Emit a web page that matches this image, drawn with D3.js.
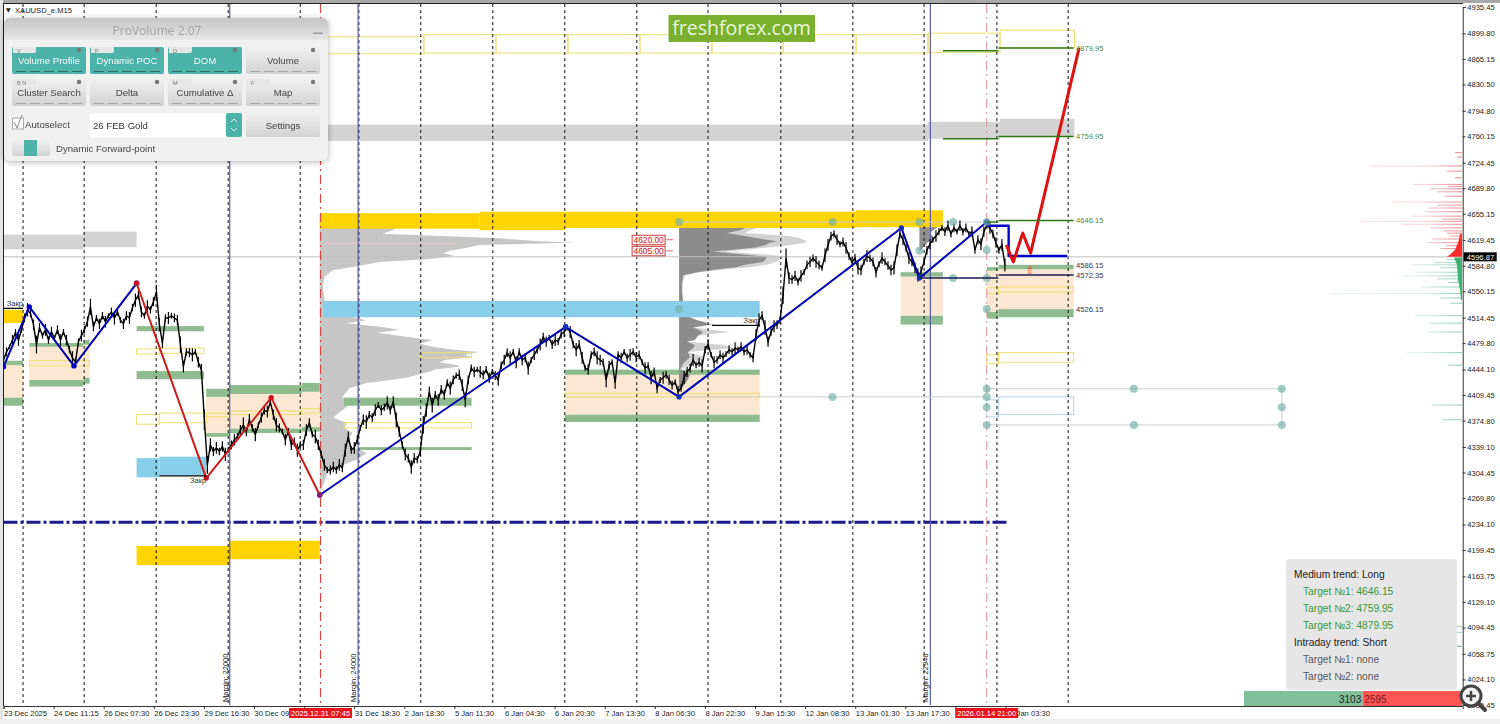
<!DOCTYPE html>
<html>
<head>
<meta charset="utf-8">
<script src="https://cdnjs.cloudflare.com/ajax/libs/d3/7.8.5/d3.min.js"></script>
<style>
	html, body { margin: 0; padding: 0; background: #fff; }
	svg { display: block; font-family: "Liberation Sans", Arial, sans-serif; }
	.axis text { font-size: 7.6px; fill: #222; }
	.axis path { stroke: #333; }
	.axis line { stroke: #333; }
	.panelBtn { font-size: 9.6px; text-anchor: middle; }
</style>
</head>
<body>
<svg id="chart" width="1500" height="724"></svg>
<script>
// price axis labels
var priceTicks = [4935.45, 4899.80, 4865.15, 4830.50, 4794.80, 4760.15, 4724.45, 4689.80, 4655.15, 4619.45, 4584.80, 4550.15, 4514.45, 4479.80, 4444.10, 4409.45, 4374.80, 4339.10, 4304.45, 4269.80, 4234.10, 4199.45, 4163.75, 4129.10, 4094.45, 4058.75, 4024.10, 3989.45];
// one time label every 64 M15 bars, the two blank ones sit under the red date tags
var barsPerLabel = 64;
var timeLabels = ["23 Dec 2025", "24 Dec 11:15", "26 Dec 07:30", "26 Dec 23:30", "29 Dec 16:30", "30 Dec 09:30", "", "31 Dec 18:30", "2 Jan 18:30", "5 Jan 11:30", "6 Jan 04:30", "6 Jan 20:30", "7 Jan 13:30", "8 Jan 06:30", "8 Jan 22:30", "9 Jan 15:30", "12 Jan 08:30", "13 Jan 01:30", "13 Jan 17:30", "", "15 Jan 03:30"];
var daySeparators = [25, 103, 195, 287, 379, 454, 533, 625, 717, 809, 900, 993, 1085, 1176, 1269, 1360];
var marginBars = [289, 453, 1184];
var marginLabels = ["Margin: 22000", "Margin: 24000", "Margin: 22946"];
var sessionBars = [405, 1256];
var sessionLabels = ["2025.12.31 07:45", "2026.01.14 21:00"];

// one value every few bars
var priceStep = 3.83;
var priceClose = [4457,4468,4475,4484,4494,4484,4498,4514,4525,4520,4505,4478,4501,4490,4498,4484,4495,4487,4498,4484,4495,4484,4471,4460,4454,4482,4490,4498,4509,4529,4502,4514,4506,4517,4509,4517,4522,4514,4522,4511,4506,4517,4514,4528,4538,4545,4522,4517,4530,4525,4536,4549,4505,4480,4514,4514,4517,4514,4511,4478,4448,4468,4467,4464,4468,4454,4444,4376,4315,4342,4333,4338,4333,4340,4329,4335,4342,4349,4353,4362,4369,4360,4376,4365,4356,4369,4379,4389,4387,4400,4383,4369,4365,4360,4349,4360,4342,4346,4335,4342,4342,4362,4372,4356,4353,4342,4329,4315,4308,4308,4312,4308,4315,4311,4335,4353,4335,4338,4349,4365,4376,4373,4383,4379,4389,4396,4389,4393,4399,4389,4400,4376,4360,4342,4329,4324,4312,4324,4322,4333,4369,4389,4414,4396,4410,4403,4417,4410,4426,4419,4430,4436,4437,4423,4403,4430,4446,4441,4444,4441,4437,4444,4433,4441,4436,4430,4450,4457,4467,4460,4468,4454,4468,4457,4460,4446,4457,4464,4471,4478,4488,4482,4487,4478,4484,4482,4492,4495,4501,4495,4478,4471,4478,4460,4446,4444,4464,4468,4460,4457,4454,4430,4450,4454,4426,4464,4460,4468,4460,4464,4468,4461,4464,4454,4446,4449,4433,4441,4419,4430,4433,4437,4430,4423,4427,4414,4419,4433,4441,4446,4457,4450,4454,4449,4471,4478,4464,4454,4457,4464,4460,4465,4471,4468,4473,4471,4475,4468,4471,4464,4460,4491,4511,4517,4501,4482,4495,4503,4505,4511,4545,4595,4568,4566,4571,4563,4571,4576,4586,4590,4595,4590,4586,4582,4599,4613,4625,4628,4620,4614,4617,4609,4598,4590,4595,4582,4579,4590,4598,4595,4590,4576,4587,4595,4590,4585,4579,4582,4606,4628,4620,4609,4595,4590,4582,4572,4576,4590,4606,4614,4620,4625,4631,4636,4631,4639,4628,4636,4631,4639,4631,4636,4628,4631,4606,4620,4614,4631,4640,4636,4628,4616,4606,4613,4586];
// half of the swing seen around each reading
var priceSwing = [4,6,3,7,5,8,4,6,9,5,7,12,6,4,8,5,7,3,6,8,4,7,5,9,6,4,8,5,7,11,6,4,7,5,8,3,6,9,5,4,7,6,8,5,9,6,7,4,8,5,6,10,9,7,5,8,4,6,7,11,8,5,6,9,4,7,8,14,12,9,6,8,5,7,9,4,6,8,5,7,10,6,8,5,9,4,7,6,8,5,7,9,6,4,8,5,7,6,9,5,7,8,6,4,9,7,5,8,4,6,7,5,8,6,9,7,5,8,6,4,7,9,5,6,8,4,7,5,9,6,8,10,7,5,8,6,9,7,5,6,12,9,7,10,5,8,6,7,5,9,6,4,7,8,10,6,5,7,4,8,6,5,7,4,6,8,5,7,6,9,4,8,5,7,6,9,4,7,5,8,6,7,4,6,8,5,6,7,4,8,5,9,6,8,4,7,5,6,9,7,5,10,6,4,8,5,7,4,6,8,5,7,6,4,8,5,9,6,7,4,8,5,7,6,4,8,5,9,7,6,8,4,6,9,5,7,4,8,5,6,7,4,6,5,8,4,6,5,7,4,6,8,9,6,10,7,5,8,6,5,12,13,8,6,7,5,8,4,6,7,5,8,6,4,9,8,6,5,7,4,6,8,5,7,6,9,7,4,8,5,6,7,4,8,5,6,7,9,8,6,7,5,8,6,7,9,8,5,6,7,4,8,5,4,6,7,5,6,4,7,5,6,4,7,5,6,8,7,5,8,6,7,5,8,9,6];

// zigzag legs
var legABars = [0, 33, 90, 170];
var legAPrices = [4448, 4529, 4449, 4561];
var legBBars = [170, 259, 342, 404];
var legBPrices = [4561, 4297, 4406, 4274];
var legCBars = [404, 718, 863, 1147, 1170, 1256];
var legCPrices = [4274, 4502, 4407, 4636, 4568, 4644];
var hookBars = [1256, 1284, 1284, 1359];
var hookPrices = [4639, 4639, 4598, 4598];
var forecastBars = [1281, 1290, 1302, 1312, 1374];
var forecastPrices = [4613, 4590, 4629, 4602, 4880];

// zones: bar from, bar to, price high, price low
var grayBands = [[0,102,4627,4607],[102,170,4631,4610],[404,1181,4776,4754],[1181,1273,4780,4757],[1273,1368,4784,4759]];
var bisqueZones = [[0,25,4450,4406],[33,102,4475,4430],[102,110,4480,4433],[259,289,4407,4358],[289,381,4411,4364],[381,404,4414,4366],[717,966,4437,4383],[1146,1200,4570,4517],[1256,1271,4578,4522],[1271,1367,4580,4526]];
var greenZones = [[0,25,4456,4450],[0,25,4406,4395],[33,102,4480,4475],[33,102,4430,4421],[102,110,4484,4478],[102,110,4433,4425],[170,256,4503,4496],[170,256,4442,4431],[259,289,4418,4407],[289,381,4423,4411],[381,404,4426,4414],[259,289,4358,4353],[289,381,4364,4358],[381,404,4366,4360],[435,598,4406,4395],[453,598,4339,4335],[717,966,4444,4437],[717,966,4383,4373],[1146,1200,4576,4570],[1146,1200,4517,4505],[1256,1271,4583,4578],[1271,1367,4586,4580],[1256,1271,4522,4513],[1271,1367,4526,4515]];
var goldZones = [[0,25,4525,4507],[170,289,4205,4179],[289,404,4212,4187],[404,608,4656,4635],[608,717,4658,4633],[717,1088,4658,4636],[1088,1200,4660,4637]];
var skyZones = [[170,199,4324,4298],[199,259,4326,4301],[409,966,4537,4515]];
var yellowBoxes = [[404,537,4895,4872],[537,629,4898,4873],[629,721,4898,4873],[721,813,4898,4873],[813,905,4898,4873],[905,996,4898,4873],[996,1089,4898,4873],[1089,1181,4898,4873],[1181,1273,4900,4874],[1273,1368,4904,4880],[33,110,4456,4449],[170,199,4472,4465],[199,256,4473,4466],[170,199,4383,4370],[199,259,4385,4372],[259,289,4385,4380],[289,381,4388,4383],[381,404,4391,4385],[435,598,4372,4365],[533,598,4467,4460],[717,966,4412,4407],[1256,1271,4555,4547],[1271,1367,4556,4549],[1256,1271,4464,4452],[1271,1367,4467,4454]];
var paleBlueBoxes = [[1256,1271,4403,4380],[1271,1367,4407,4383]];

// target levels: bar from, bar to, price
var targetLines = [[1200,1271,4876],[1271,1367,4879.95],[1200,1271,4757],[1271,1367,4759.95],[1256,1271,4644],[1271,1367,4646.15]];
var supportLines = [[1170,1271,4568],[1271,1367,4572.35]];
var targetLabels = [4879.95, 4759.95, 4646.15];
var supportLabels = [4586.15, 4572.35, 4526.15];
var guideLevels = [[863,1256,4644],[863,1256,4407],[1256,1633,4418],[1256,1633,4369]];
var guideDotBars = [863,1059,1170,1213,1256,863,1170,1256,1213,1256,1256,1059,1256,1256,1256,1256,1444,1444,1633,1633,1633];
var guideDotPrices = [4644,4644,4644,4644,4644,4526,4605,4606,4568,4568,4526,4407,4418,4407,4393,4369,4418,4369,4418,4393,4369];
var closeMarks = [[0,25,4527],[199,259,4300],[905,966,4504]];
var closeText = "Закр";
var orderLevels = [4620, 4605];

// volume profiles, width in bars from the session start
var profileABase = 404;
var profileAPrices = [4650,4640,4633,4628,4622,4618,4616,4613,4609,4605,4602,4598,4594,4590,4583,4579,4570,4556,4538,4525,4515,4511,4507,4502,4498,4494,4488,4484,4479,4475,4471,4468,4464,4461,4457,4454,4450,4448,4444,4441,4437,4433,4429,4426,4419,4407,4400,4393,4387,4379,4372,4365,4358,4349,4339,4331,4322,4313,4304,4285,4277];
var profileAWidths = [102,102,93,80,230,281,326,204,188,166,157,172,140,77,42,17,6,4,6,14,42,60,34,77,102,73,115,144,128,144,172,204,185,195,160,153,176,179,147,140,125,111,83,60,38,29,38,34,26,17,34,32,42,36,42,60,47,26,10,3,0];
var profileBBase = 863;
var profileBPrices = [4637,4633,4629,4625,4622,4618,4616,4613,4610,4606,4604,4599,4597,4593,4590,4586,4583,4579,4576,4572,4561,4548,4538,4515,4511,4509,4505,4501,4495,4490,4484,4482,4477,4473,4468,4461,4453,4444,4437,4430,4421,4414];
var profileBDark = [87,78,61,84,100,125,116,110,100,65,43,91,112,110,107,84,74,42,23,5,4,4,5,14,23,31,40,18,31,24,20,10,20,18,11,14,6,1,14,11,5,0];
var profileBLight = [103,91,84,142,155,163,161,142,116,84,59,123,135,129,123,112,91,52,27,8,4,4,5,14,23,31,46,18,65,24,20,10,59,69,11,33,20,1,14,11,5,0];
var profileCBase = 1170;
var profileCPrices = [4643,4636,4629,4622,4616,4607,4604];
var profileCWidths = [29,22,13,19,10,3,0];

// depth of market on the right edge, lots per price
var domAskPrices = [4738,4732,4720,4713,4704,4695,4692,4689,4685,4679,4671,4667,4663,4658,4652,4648,4645,4641,4636,4632,4629,4625,4621,4616,4612,4608];
var domAskLots = [7,5,92,15,7,49,14,32,25,18,70,25,34,37,50,20,102,60,32,18,15,12,30,35,16,22];
var domBidPrices = [4593,4589,4586,4582,4576,4571,4567,4562,4556,4547,4541,4534,4517,4507,4495,4467,4450,4396,4376,4096,4088];
var domBidLots = [15,28,50,22,47,60,25,14,40,132,22,12,47,32,35,55,14,30,20,14,14];
var domAskHeapPrices = [4628,4620,4613,4606,4601,4597];
var domAskHeapLots = [2,3,5,7,11,15];
var domBidHeapPrices = [4596,4586,4566,4552,4538];
var domBidHeapLots = [8,5,4,2,1];
var lastPrice = 4596.87;
var keyLevel = 4237;
var restPrice = 4069;
var restLots = 40;

// info box
var infoLines = ["Medium trend: Long", "Target №1: 4646.15", "Target №2: 4759.95", "Target №3: 4879.95", "Intraday trend: Short", "Target №1: none", "Target №2: none"];
var infoKinds = ["head", "up", "up", "up", "head", "none", "none"];
var buyVolume = 3103;
var sellVolume = 2595;

// panel buttons
var buttonLabels = ["Volume Profile", "Dynamic POC", "DOM", "Volume", "Cluster Search", "Delta", "Cumulative Δ", "Map"];
var buttonKeys = ["V", "P", "D", "", "B  N", "", "M", "F"];
var buttonActive = [1, 1, 1, 0, 0, 0, 0, 0];

var svg = d3.select("#chart");

var xScale = d3.scaleLinear().domain([0, 1864]).range([3.5, 1462.7]);
var yScale = d3.scaleLinear().domain([3989.45, 4935.45]).range([705, 7]);
var domScale = d3.scaleLinear().domain([0, 132]).range([1462, 1330]);
var volScale = d3.scaleLinear().domain([0, buyVolume + sellVolume]).range([1244, 1462]);

var defs = svg.append("defs");
function fade(id, color) {
	var g = defs.append("linearGradient").attr("id", id).attr("gradientUnits", "userSpaceOnUse")
		.attr("x1", 1330).attr("x2", 1462).attr("y1", 0).attr("y2", 0);
	g.append("stop").attr("offset", "0%").attr("stop-color", color).attr("stop-opacity", 0.12);
	g.append("stop").attr("offset", "70%").attr("stop-color", color).attr("stop-opacity", 0.2);
	g.append("stop").attr("offset", "100%").attr("stop-color", color).attr("stop-opacity", 0.6);
}
fade("askFade", "#d83040");
fade("bidFade", "#3aa878");

var headGrad = defs.append("linearGradient").attr("id", "headGrad").attr("x1", 0).attr("x2", 0).attr("y1", 0).attr("y2", 1);
headGrad.append("stop").attr("offset", "0%").attr("stop-color", "#c4c4c4");
headGrad.append("stop").attr("offset", "100%").attr("stop-color", "#e6e6e6");
var btnGrad = defs.append("linearGradient").attr("id", "btnGrad").attr("x1", 0).attr("x2", 0).attr("y1", 0).attr("y2", 1);
btnGrad.append("stop").attr("offset", "0%").attr("stop-color", "#f0f0f0");
btnGrad.append("stop").attr("offset", "100%").attr("stop-color", "#d2d2d2");

function drawZones(data, fill, stroke) {
	svg.append("g").selectAll("rect").data(data).enter().append("rect")
		.attr("x", function(d) { return xScale(d[0]); })
		.attr("y", function(d) { return yScale(d[2]); })
		.attr("width", function(d) { return xScale(d[1]) - xScale(d[0]); })
		.attr("height", function(d) { return yScale(d[3]) - yScale(d[2]); })
		.attr("fill", fill)
		.attr("stroke", stroke || "none");
}

function drawLevels(data, color, width) {
	return svg.append("g").selectAll("line").data(data).enter().append("line")
		.attr("x1", function(d) { return xScale(d[0]); })
		.attr("x2", function(d) { return xScale(d[1]); })
		.attr("y1", function(d) { return yScale(d[2]); })
		.attr("y2", function(d) { return yScale(d[2]); })
		.attr("stroke", color)
		.attr("stroke-width", width);
}

function drawPath(bars, prices, color, width) {
	var line = d3.line()
		.x(function(d, i) { return xScale(bars[i]); })
		.y(function(d, i) { return yScale(prices[i]); });
	return svg.append("path").attr("d", line(prices))
		.attr("fill", "none")
		.attr("stroke", color)
		.attr("stroke-width", width)
		.attr("stroke-linejoin", "round");
}

function drawProfile(base, prices, widths, color) {
	var area = d3.area()
		.x0(xScale(base))
		.x1(function(d, i) { return xScale(base + widths[i]); })
		.y(function(d, i) { return yScale(prices[i]); });
	svg.append("path").attr("d", area(prices)).attr("fill", color);
}

// gray bands and the first profile sit below everything else
drawZones(grayBands, "#d3d3d3");
drawProfile(profileABase, profileAPrices, profileAWidths, "#c6c6c6");

drawZones(bisqueZones, "#fce8d2");
drawZones(greenZones, "#8fbc8f");
drawZones(yellowBoxes, "none", "#ece06a");
drawZones(paleBlueBoxes, "none", "#b4d4e4");

drawProfile(profileBBase, profileBPrices, profileBLight, "#d2d2d2");
drawProfile(profileBBase, profileBPrices, profileBDark, "#8c8c8c");
drawProfile(profileCBase, profileCPrices, profileCWidths, "#909090");

drawZones(goldZones, "#ffd400");
drawZones(skyZones, "#87ceeb");

// day separators
svg.append("g").selectAll("line").data(daySeparators).enter().append("line")
	.attr("x1", function(d) { return xScale(d); })
	.attr("x2", function(d) { return xScale(d); })
	.attr("y1", 4).attr("y2", yScale(3989.45))
	.attr("stroke", "#111").attr("stroke-dasharray", "3,3");

// last price and key level
drawLevels([[0, 1864, lastPrice]], "#c0c0c0", 1);
drawLevels([[404, 580, 4615]], "#e8c0c0", 1);
drawLevels([[0, 1283, keyLevel]], "#1a1a8c", 3).attr("stroke-dasharray", "14,3,3,3");

// margin lines
svg.append("g").selectAll("line").data(marginBars).enter().append("line")
	.attr("x1", function(d) { return xScale(d); })
	.attr("x2", function(d) { return xScale(d); })
	.attr("y1", 4).attr("y2", yScale(3989.45))
	.attr("stroke", "#5c5cb0").attr("stroke-width", 1.2);
svg.append("g").selectAll("text").data(marginLabels).enter().append("text")
	.text(function(d) { return d; })
	.attr("transform", function(d, i) { return "translate(" + (xScale(marginBars[i]) - 2) + ",702) rotate(-90)"; })
	.attr("font-size", 7.6).attr("fill", "#222");

// session lines
svg.append("g").selectAll("line").data(sessionBars).enter().append("line")
	.attr("x1", function(d) { return xScale(d); })
	.attr("x2", function(d) { return xScale(d); })
	.attr("y1", 4).attr("y2", yScale(3989.45))
	.attr("stroke", function(d, i) { return i == 0 ? "#d04848" : "#dca0a8"; })
	.attr("stroke-width", 1.2)
	.attr("stroke-dasharray", "9,4,2,4");

// guide grid and dots
drawLevels(guideLevels, "#cccccc", 1);
svg.append("line")
	.attr("x1", xScale(1633)).attr("x2", xScale(1633))
	.attr("y1", yScale(4418)).attr("y2", yScale(4369))
	.attr("stroke", "#cccccc");

// price
var priceLine = d3.line()
	.x(function(d, i) { return xScale(i * priceStep); })
	.y(function(d) { return yScale(d); });
svg.append("path").attr("d", priceLine(priceClose))
	.attr("fill", "none").attr("stroke", "#000").attr("stroke-width", 1.4);
svg.append("g").selectAll("line").data(priceClose).enter().append("line")
	.attr("x1", function(d, i) { return xScale(i * priceStep); })
	.attr("x2", function(d, i) { return xScale(i * priceStep); })
	.attr("y1", function(d, i) { return yScale(d + (priceSwing[i] || 0)); })
	.attr("y2", function(d, i) { return yScale(d - (priceSwing[i] || 0)); })
	.attr("stroke", "#000")
	.attr("stroke-width", 1.2);

// zigzag
drawPath(legABars, legAPrices, "#0000b4", 2);
drawPath(legBBars, legBPrices, "#cc1a1a", 2);
drawPath(legCBars, legCPrices, "#0000b4", 2);
drawPath(hookBars, hookPrices, "#0000c8", 2.4);
drawPath(forecastBars, forecastPrices, "#dd1111", 3);

function drawDots(bars, prices, color) {
	svg.append("g").selectAll("circle").data(prices).enter().append("circle")
		.attr("cx", function(d, i) { return xScale(bars[i]); })
		.attr("cy", function(d) { return yScale(d); })
		.attr("r", 2.7)
		.attr("fill", color);
}
drawDots(legABars, legAPrices, "#0000d0");
drawDots(legBBars, legBPrices, "#d01020");
drawDots(legCBars.slice(1), legCPrices.slice(1), "#1030c0");
drawDots([404], [4274], "#802080");

svg.append("g").selectAll("circle").data(guideDotPrices).enter().append("circle")
	.attr("cx", function(d, i) { return xScale(guideDotBars[i]); })
	.attr("cy", function(d) { return yScale(d); })
	.attr("r", 4)
	.attr("fill", "#6fb0a8")
	.attr("fill-opacity", 0.65);

// target levels
drawLevels(targetLines, "#2e7a12", 1.5);
drawLevels(supportLines, "#1a1a50", 1.5);
drawLevels(closeMarks, "#000", 1.3);
svg.append("g").selectAll("text").data(closeMarks).enter().append("text")
	.text(closeText)
	.attr("x", function(d) { return xScale(d[1]); })
	.attr("y", function(d, i) { return yScale(d[2]) + (i == 1 ? 7 : -2); })
	.attr("text-anchor", "end")
	.attr("font-size", 7.6).attr("fill", "#333");

svg.append("g").selectAll("text").data(targetLabels).enter().append("text")
	.text(function(d) { return d.toFixed(2); })
	.attr("x", xScale(1370)).attr("y", function(d) { return yScale(d) + 3; })
	.attr("font-size", 7.6).attr("fill", "#4a8a4a");
svg.append("g").selectAll("text").data(supportLabels).enter().append("text")
	.text(function(d) { return d.toFixed(2); })
	.attr("x", xScale(1370)).attr("y", function(d) { return yScale(d) + 3; })
	.attr("font-size", 7.6).attr("fill", "#333355");

// arrow under forecast
svg.append("text").text("⇧")
	.attr("x", xScale(1311)).attr("y", yScale(4574))
	.attr("text-anchor", "middle")
	.attr("font-family", "DejaVu Sans").attr("font-size", 11).attr("fill", "#e04040");

// order level tags
var tags = svg.append("g").selectAll("g").data(orderLevels).enter().append("g");
tags.append("line")
	.attr("x1", xScale(847)).attr("x2", xScale(855))
	.attr("y1", function(d) { return yScale(d); })
	.attr("y2", function(d) { return yScale(d); })
	.attr("stroke", "#d06060");
tags.append("rect")
	.attr("x", xScale(803)).attr("width", 33)
	.attr("y", function(d) { return yScale(d) - 4.5; }).attr("height", 9.5)
	.attr("fill", "#fff2f2").attr("stroke", "#c84040");
tags.append("text")
	.text(function(d) { return d.toFixed(2); })
	.attr("x", xScale(803) + 16.5).attr("y", function(d) { return yScale(d) + 3; })
	.attr("text-anchor", "middle")
	.attr("font-size", 8.4).attr("fill", "#b83030");

// depth of market
function drawDom(prices, lots, paint) {
	svg.append("g").selectAll("line").data(prices).enter().append("line")
		.attr("x1", function(d, i) { return domScale(lots[i]); })
		.attr("x2", domScale(0))
		.attr("y1", function(d) { return yScale(d); })
		.attr("y2", function(d) { return yScale(d); })
		.attr("stroke", paint);
}
function drawHeap(prices, lots, color) {
	var area = d3.area()
		.x0(domScale(0))
		.x1(function(d, i) { return domScale(lots[i]); })
		.y(function(d) { return yScale(d); });
	svg.append("path").attr("d", area(prices)).attr("fill", color);
}
drawDom(domAskPrices, domAskLots, "url(#askFade)");
drawDom(domBidPrices, domBidLots, "url(#bidFade)");
drawHeap(domAskHeapPrices, domAskHeapLots, "#ff2a2a");
drawHeap(domBidHeapPrices, domBidHeapLots, "#3cb371");
svg.append("line")
	.attr("x1", domScale(restLots)).attr("x2", domScale(0))
	.attr("y1", yScale(restPrice)).attr("y2", yScale(restPrice))
	.attr("stroke", "#7fb8a8").attr("stroke-width", 1.2);

// axes
var priceAxis = d3.axisRight(yScale)
	.tickValues(priceTicks)
	.tickSize(3)
	.tickPadding(1.5)
	.tickFormat(function(d) { return d.toFixed(2); });
svg.append("g").attr("class", "axis").attr("transform", "translate(" + xScale(1864) + ",0)").call(priceAxis);

var timeAxis = d3.axisBottom(xScale)
	.tickValues(timeLabels.map(function(d, i) { return i * barsPerLabel; }))
	.tickSize(3)
	.tickFormat(function(d, i) { return timeLabels[i]; });
var timeG = svg.append("g").attr("class", "axis").attr("transform", "translate(0,706)").call(timeAxis);
timeG.selectAll("text").attr("text-anchor", "start").attr("y", 5);

// window frame
svg.append("rect").attr("x", 0).attr("y", 0).attr("width", 1500).attr("height", 3).attr("fill", "#a8a8a8");
svg.append("line").attr("x1", 3).attr("x2", 1463).attr("y1", 3.5).attr("y2", 3.5).attr("stroke", "#222");
svg.append("line").attr("x1", 3.5).attr("x2", 3.5).attr("y1", 3).attr("y2", 706).attr("stroke", "#222");
svg.append("rect").attr("x", 0).attr("y", 0).attr("width", 3).attr("height", 724).attr("fill", "#e4e4e4");
svg.append("rect").attr("x", 0).attr("y", 719).attr("width", 1500).attr("height", 5).attr("fill", "#f0f0f0");

// session date tags on the axis
var sessionTag = svg.append("g").selectAll("g").data(sessionLabels).enter().append("g");
sessionTag.append("rect")
	.attr("x", function(d, i) { return xScale(sessionBars[i]) - 31.5; })
	.attr("y", 708).attr("width", 63).attr("height", 10)
	.attr("fill", "#e8141c");
sessionTag.append("text")
	.text(function(d) { return d; })
	.attr("x", function(d, i) { return xScale(sessionBars[i]); })
	.attr("y", 716)
	.attr("text-anchor", "middle")
	.attr("font-size", 7.6).attr("fill", "#fff");

// last price tag
svg.append("rect").attr("x", xScale(1864) + 1).attr("y", yScale(lastPrice) - 4.5).attr("width", 33).attr("height", 9).attr("fill", "#000");
svg.append("text").text(lastPrice.toFixed(2))
	.attr("x", xScale(1864) + 4).attr("y", yScale(lastPrice) + 3)
	.attr("font-size", 7.6).attr("fill", "#fff");

// symbol caption
svg.append("text").text("▼").attr("x", 6).attr("y", 12).attr("font-size", 6).attr("fill", "#222").attr("font-family", "DejaVu Sans");
svg.append("text").text("XAUUSD_e.M15").attr("x", 15).attr("y", 12.5).attr("font-size", 7.6).attr("fill", "#222");

// site badge
svg.append("rect").attr("x", 668.5).attr("y", 15).attr("width", 146.5).attr("height", 27).attr("fill", "#79b12f");
svg.append("text").text("freshforex.com")
	.attr("x", 741.5).attr("y", 35)
	.attr("text-anchor", "middle")
	.attr("font-family", "Open Sans").attr("font-size", 19.5).attr("fill", "#eaf6da");

// volume split
svg.append("rect").attr("x", volScale(0)).attr("y", 691).attr("width", volScale(buyVolume) - volScale(0)).attr("height", 15).attr("fill", "#7fbf9a");
svg.append("rect").attr("x", volScale(buyVolume)).attr("y", 691).attr("width", volScale(buyVolume + sellVolume) - volScale(buyVolume)).attr("height", 15).attr("fill", "#ff5555");
svg.append("text").text(buyVolume).attr("x", volScale(buyVolume) - 1.5).attr("y", 703).attr("text-anchor", "end").attr("font-size", 10).attr("fill", "#222");
svg.append("text").text(sellVolume).attr("x", volScale(buyVolume) + 1.5).attr("y", 703).attr("font-size", 10).attr("fill", "#7a1a1a");

// info box
svg.append("rect").attr("x", 1286).attr("y", 559).attr("width", 171).attr("height", 131).attr("rx", 4).attr("fill", "#e6e6e6");
svg.append("g").selectAll("text").data(infoLines).enter().append("text")
	.text(function(d) { return d; })
	.attr("x", function(d, i) { return infoKinds[i] == "head" ? 1294 : 1303; })
	.attr("y", function(d, i) { return 577.5 + i * 17.1; })
	.attr("font-size", 10.2)
	.attr("fill", function(d, i) { return infoKinds[i] == "head" ? "#222" : (infoKinds[i] == "up" ? "#3a963a" : "#555"); });

// ProVolume panel
var panel = svg.append("g").attr("style", "filter: drop-shadow(0 1px 3px rgba(0,0,0,.3))");
panel.append("rect").attr("x", 4).attr("y", 18).attr("width", 324).attr("height", 143).attr("rx", 6).attr("fill", "#f0f0f0");
panel.append("path").attr("d", "M4,40V24a6,6 0 0 1 6,-6H322a6,6 0 0 1 6,6V40Z").attr("fill", "url(#headGrad)");
panel.append("text").text("ProVolume 2.07").attr("x", 157).attr("y", 34.5).attr("text-anchor", "middle")
	.attr("font-family", "Open Sans").attr("font-size", 12).attr("fill", "#a4a4a4");
panel.append("rect").attr("x", 313).attr("y", 32.5).attr("width", 10).attr("height", 1.5).attr("fill", "#999");

var btn = panel.selectAll(".btn").data(buttonLabels).enter().append("g").attr("class", "btn")
	.attr("transform", function(d, i) { return "translate(" + (12 + (i % 4) * 78) + "," + (i < 4 ? 47 : 79) + ")"; });
btn.append("rect").attr("width", 74).attr("height", 27).attr("rx", 2)
	.attr("fill", function(d, i) { return buttonActive[i] ? "#4db3a9" : "url(#btnGrad)"; });
btn.append("text").attr("class", "panelBtn")
	.text(function(d) { return d; })
	.attr("x", 37).attr("y", 17)
	.attr("fill", function(d, i) { return buttonActive[i] ? "#f4fbfa" : "#444"; });
btn.append("path").attr("d", "M1,0H24V4a2,2 0 0 1 -2,2H1Z")
	.attr("fill", function(d, i) { return buttonKeys[i] ? "#e6e6e6" : "none"; });
btn.append("text").text(function(d, i) { return buttonKeys[i]; })
	.attr("x", 5).attr("y", 5.5).attr("font-size", 5.5).attr("fill", "#777");
btn.append("circle").attr("cx", 67).attr("cy", 3).attr("r", 2.2).attr("fill", "#777");
btn.append("line").attr("x1", 4).attr("x2", 70).attr("y1", 24.5).attr("y2", 24.5)
	.attr("stroke", function(d, i) { return buttonActive[i] ? "#2f6f68" : "#aaa"; })
	.attr("stroke-dasharray", "10,4");

panel.append("rect").attr("x", 12.5).attr("y", 118).attr("width", 11).attr("height", 11).attr("fill", "#fff").attr("stroke", "#aaa");
panel.append("path").attr("d", "M14,122L17,128L22,115").attr("fill", "none").attr("stroke", "#888");
panel.append("text").text("Autoselect").attr("x", 25).attr("y", 127.5).attr("font-size", 9.6).attr("fill", "#444");
panel.append("rect").attr("x", 90).attr("y", 113).attr("width", 152).attr("height", 24).attr("rx", 2).attr("fill", "#fff");
panel.append("rect").attr("x", 226).attr("y", 113).attr("width", 16).attr("height", 24).attr("rx", 2).attr("fill", "#4db3a9");
panel.append("path").attr("d", "M231,122l3,-3l3,3M231,128l3,3l3,-3").attr("fill", "none").attr("stroke", "#d8f0ee");
panel.append("text").text("26 FEB Gold").attr("x", 93).attr("y", 129).attr("font-size", 9.6).attr("fill", "#333");
panel.append("rect").attr("x", 246).attr("y", 113).attr("width", 74).attr("height", 24).attr("rx", 2).attr("fill", "url(#btnGrad)");
panel.append("text").attr("class", "panelBtn").text("Settings").attr("x", 283).attr("y", 129).attr("fill", "#444");
panel.append("rect").attr("x", 12).attr("y", 140).attr("width", 38).attr("height", 16).attr("rx", 3).attr("fill", "url(#btnGrad)");
panel.append("rect").attr("x", 24).attr("y", 140).attr("width", 13).attr("height", 16).attr("fill", "#4db3a9");
panel.append("text").text("Dynamic Forward-point").attr("x", 56).attr("y", 151.5).attr("font-size", 9.6).attr("fill", "#444");

// viewer magnifier
var lens = svg.append("g").attr("stroke", "#444").attr("fill", "none");
lens.append("circle").attr("cx", 1471).attr("cy", 696).attr("r", 10).attr("fill", "#f4f4f4").attr("stroke-width", 3);
lens.append("line").attr("x1", 1478).attr("y1", 703).attr("x2", 1485).attr("y2", 710).attr("stroke-width", 4).attr("stroke-linecap", "round");
lens.append("path").attr("d", "M1466,696H1476M1471,691V701").attr("stroke-width", 2.5);
</script>
</body>
</html>
